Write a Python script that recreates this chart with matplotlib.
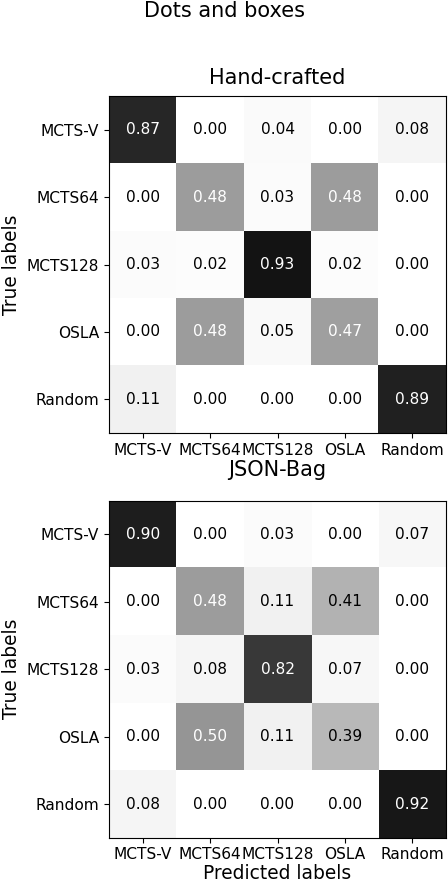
#!/usr/bin/env python3
"""Confusion matrices for the Dots and boxes agent classifier."""
import numpy as np
import matplotlib
matplotlib.use("Agg")
import matplotlib.pyplot as plt

labels = ["MCTS-V", "MCTS64", "MCTS128", "OSLA", "Random"]

hand_crafted = [
    [0.87, 0.00, 0.04, 0.00, 0.08],
    [0.00, 0.48, 0.03, 0.48, 0.00],
    [0.03, 0.02, 0.93, 0.02, 0.00],
    [0.00, 0.48, 0.05, 0.47, 0.00],
    [0.11, 0.00, 0.00, 0.00, 0.89],
]

json_bag = [
    [0.90, 0.00, 0.03, 0.00, 0.07],
    [0.00, 0.48, 0.11, 0.41, 0.00],
    [0.03, 0.08, 0.82, 0.07, 0.00],
    [0.00, 0.50, 0.11, 0.39, 0.00],
    [0.08, 0.00, 0.00, 0.00, 0.92],
]


def draw_cm(ax, cm, title, show_xlabel, pad):
    cm = np.array(cm)
    im = ax.imshow(cm, cmap="Greys", vmin=0, vmax=1, interpolation="nearest")
    thresh = (cm.max() + cm.min()) / 2.0
    for i in range(cm.shape[0]):
        for j in range(cm.shape[1]):
            color = "white" if cm[i, j] > thresh else "black"
            ax.text(j, i, f"{cm[i, j]:.2f}", ha="center", va="center",
                    color=color, fontsize=11.1)
    ax.set_xticks(range(len(labels)))
    ax.set_xticklabels(labels, fontsize=11.1)
    ax.set_yticks(range(len(labels)))
    ax.set_yticklabels(labels, fontsize=11.1)
    ax.set_ylabel("True labels", fontsize=13.4)
    if show_xlabel:
        ax.set_xlabel("Predicted labels", fontsize=13.4, labelpad=1)
    ax.set_title(title, fontsize=15.0, pad=pad)
    return im


fig = plt.figure(figsize=(4.48, 8.86), dpi=100)
ax1 = fig.add_axes([0.241, 0.5113, 0.757, 0.3803])
ax2 = fig.add_axes([0.241, 0.0545, 0.757, 0.3805])

draw_cm(ax1, hand_crafted, "Hand-crafted", False, 9)
draw_cm(ax2, json_bag, "JSON-Bag", True, 18)

fig.suptitle("Dots and boxes", fontsize=15.0, y=0.999)

plt.savefig("out.png", dpi=100)
plt.close()
